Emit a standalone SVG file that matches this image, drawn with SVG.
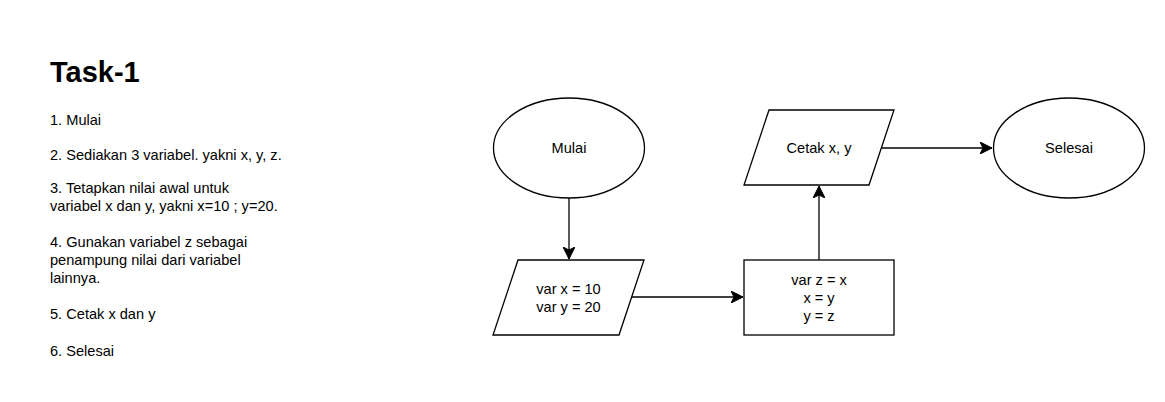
<svg xmlns="http://www.w3.org/2000/svg" width="1165" height="402" viewBox="0 0 1165 402">
<defs>
<style>
.t{font-family:"Liberation Sans",Arial,sans-serif;font-size:14.6px;fill:#000}
.c{text-anchor:middle}
.h{font-family:"Liberation Sans",Arial,sans-serif;font-size:29px;font-weight:bold;fill:#000}
.s{fill:#fff;stroke:#000;stroke-width:1.3}
.e{fill:none;stroke:#000;stroke-width:1.3}
</style>
<marker id="ah" markerUnits="userSpaceOnUse" markerWidth="14" markerHeight="12" viewBox="0 0 14 12" refX="12" refY="6" orient="auto">
<path d="M0,0 L12,6 L0,12 L3,6 Z" fill="#000" stroke="#000" stroke-width="1"/>
</marker>
</defs>
<rect width="1165" height="402" fill="#fff"/>
<g id="steps">
<text class="h" x="50" y="82">Task-1</text>
<text class="t" x="50" y="125">1. Mulai</text>
<text class="t" x="50" y="160">2. Sediakan 3 variabel. yakni x, y, z.</text>
<text class="t" x="50" y="193">3. Tetapkan nilai awal untuk</text>
<text class="t" x="50" y="211">variabel x dan y, yakni x=10 ; y=20.</text>
<text class="t" x="50" y="247">4. Gunakan variabel z sebagai</text>
<text class="t" x="50" y="265">penampung nilai dari variabel</text>
<text class="t" x="50" y="283">lainnya.</text>
<text class="t" x="50" y="319">5. Cetak x dan y</text>
<text class="t" x="50" y="356">6. Selesai</text>
</g>
<g id="connectors">
<path class="e" d="M569,198 L569,259" marker-end="url(#ah)"/>
<path class="e" d="M632,297 L743,297" marker-end="url(#ah)"/>
<path class="e" d="M819,260 L819,186" marker-end="url(#ah)"/>
<path class="e" d="M882,148 L992,148" marker-end="url(#ah)"/>
</g>
<g id="mulai">
<ellipse class="s" cx="569" cy="148" rx="75.5" ry="50"/>
<text class="t c" x="569" y="153">Mulai</text>
</g>
<g id="input">
<polygon class="s" points="518,260 644,260 619,335 493,335"/>
<text class="t c" x="568.5" y="294">var x = 10</text>
<text class="t c" x="568.5" y="312">var y = 20</text>
</g>
<g id="process">
<rect class="s" x="744" y="260" width="150" height="75"/>
<text class="t c" x="819" y="285">var z = x</text>
<text class="t c" x="819" y="303">x = y</text>
<text class="t c" x="819" y="321">y = z</text>
</g>
<g id="cetak">
<polygon class="s" points="769,110 894,110 869,185 744,185"/>
<text class="t c" x="819" y="153">Cetak x, y</text>
</g>
<g id="selesai">
<ellipse class="s" cx="1069" cy="148" rx="75.5" ry="50"/>
<text class="t c" x="1069" y="153">Selesai</text>
</g>
</svg>
